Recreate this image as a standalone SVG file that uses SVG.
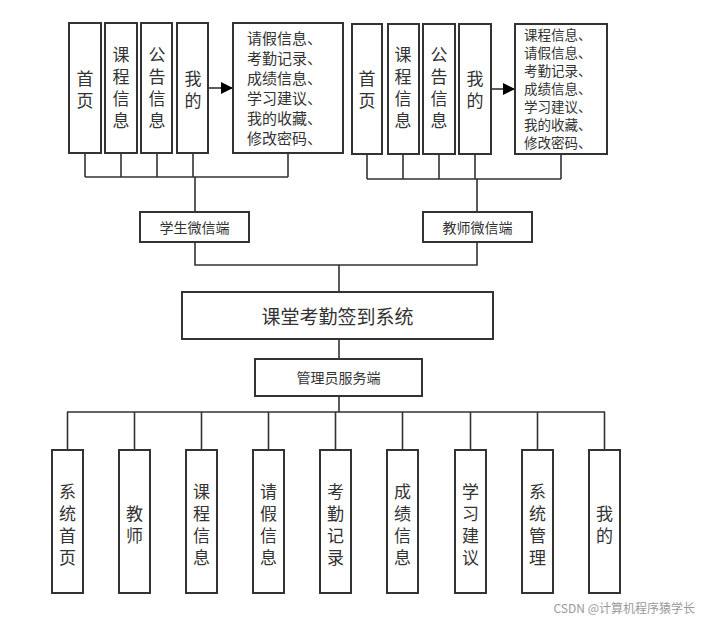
<svg xmlns="http://www.w3.org/2000/svg" width="706" height="621" viewBox="0 0 706 621">
<style>
rect{fill:#fff;stroke:#333;stroke-width:2}
text{font-family:"Noto Sans CJK SC","Liberation Sans",sans-serif;fill:#333;text-anchor:middle;dominant-baseline:central}
.v{font-size:17px}
.l{font-size:15px;text-anchor:start}
.r{font-size:13.5px;text-anchor:start}
.s{font-size:14px}
#conn path{fill:none;stroke:#333;stroke-width:1.6}
</style>
<defs><marker id="ar" viewBox="0 0 10 10" refX="10" refY="5" markerWidth="14" markerHeight="12" orient="auto" markerUnits="userSpaceOnUse"><path d="M0,0L10,5L0,10z" fill="#000"/></marker></defs>
<rect x="0" y="0" width="706" height="621" style="stroke:none"/>
<g id="conn">
<path d="M85,153V177M121,153V177M157,153V177M193,153V177M288,153V177M85,177H288M195,177V212"/>
<path d="M367,154V179M403,154V179M439,154V179M475,154V179M561,154V179M367,179H561M477,179V212"/>
<path d="M195,242V265H477V242M339,265V292M339,339V359M339,396V412M67,412H605"/>
<path d="M67.5,412V450M134.5,412V450M201.5,412V450M268.5,412V450M335.5,412V450M402.5,412V450M470.5,412V450M537.5,412V450M604.5,412V450"/>
<path d="M208,88H233" marker-end="url(#ar)"/>
<path d="M491,89H515" marker-end="url(#ar)"/>
</g>
<g id="s1"><rect x="69" y="23" width="32" height="130"/><text class="v" x="85" y="77">首</text><text class="v" x="85" y="99">页</text></g>
<g id="s2"><rect x="105" y="23" width="32" height="130"/><text class="v" x="121" y="53">课</text><text class="v" x="121" y="75">程</text><text class="v" x="121" y="97">信</text><text class="v" x="121" y="119">息</text></g>
<g id="s3"><rect x="141" y="23" width="31" height="130"/><text class="v" x="157" y="53">公</text><text class="v" x="157" y="75">告</text><text class="v" x="157" y="97">信</text><text class="v" x="157" y="119">息</text></g>
<g id="s4"><rect x="177" y="23" width="31" height="130"/><text class="v" x="193" y="77">我</text><text class="v" x="193" y="99">的</text></g>
<g id="s5"><rect x="233" y="23" width="110" height="130"/>
<text class="l" x="247" y="37">请假信息、</text><text class="l" x="247" y="57">考勤记录、</text><text class="l" x="247" y="77">成绩信息、</text><text class="l" x="247" y="97">学习建议、</text><text class="l" x="247" y="117">我的收藏、</text><text class="l" x="247" y="137">修改密码、</text></g>
<g id="t1"><rect x="352" y="24" width="30" height="130"/><text class="v" x="367" y="77">首</text><text class="v" x="367" y="99">页</text></g>
<g id="t2"><rect x="388" y="24" width="31" height="130"/><text class="v" x="403" y="53">课</text><text class="v" x="403" y="75">程</text><text class="v" x="403" y="97">信</text><text class="v" x="403" y="119">息</text></g>
<g id="t3"><rect x="423" y="24" width="32" height="130"/><text class="v" x="439" y="53">公</text><text class="v" x="439" y="75">告</text><text class="v" x="439" y="97">信</text><text class="v" x="439" y="119">息</text></g>
<g id="t4"><rect x="459" y="24" width="32" height="130"/><text class="v" x="475" y="77">我</text><text class="v" x="475" y="99">的</text></g>
<g id="t5"><rect x="515" y="24" width="92" height="130"/>
<text class="r" x="524" y="34">课程信息、</text><text class="r" x="524" y="52">请假信息、</text><text class="r" x="524" y="70">考勤记录、</text><text class="r" x="524" y="88">成绩信息、</text><text class="r" x="524" y="106">学习建议、</text><text class="r" x="524" y="124">我的收藏、</text><text class="r" x="524" y="142">修改密码、</text></g>
<g id="stu"><rect x="140" y="212" width="109" height="30"/><text class="s" x="194.5" y="227">学生微信端</text></g>
<g id="tea"><rect x="423" y="212" width="109" height="30"/><text class="s" x="477.5" y="227">教师微信端</text></g>
<g id="sys"><rect x="182" y="292" width="311" height="47"/><text x="337.5" y="315" style="font-size:19px">课堂考勤签到系统</text></g>
<g id="adm"><rect x="255" y="359" width="167" height="37"/><text class="s" x="338.5" y="377">管理员服务端</text></g>
<g id="b1"><rect x="52" y="450" width="31" height="143"/><text class="v" x="67.5" y="490">系</text><text class="v" x="67.5" y="512">统</text><text class="v" x="67.5" y="534">首</text><text class="v" x="67.5" y="556">页</text></g>
<g id="b2"><rect x="119" y="450" width="31" height="143"/><text class="v" x="134.5" y="512">教</text><text class="v" x="134.5" y="534">师</text></g>
<g id="b3"><rect x="186" y="450" width="31" height="143"/><text class="v" x="201.5" y="490">课</text><text class="v" x="201.5" y="512">程</text><text class="v" x="201.5" y="534">信</text><text class="v" x="201.5" y="556">息</text></g>
<g id="b4"><rect x="253" y="450" width="31" height="143"/><text class="v" x="268.5" y="490">请</text><text class="v" x="268.5" y="512">假</text><text class="v" x="268.5" y="534">信</text><text class="v" x="268.5" y="556">息</text></g>
<g id="b5"><rect x="320" y="450" width="31" height="143"/><text class="v" x="335.5" y="490">考</text><text class="v" x="335.5" y="512">勤</text><text class="v" x="335.5" y="534">记</text><text class="v" x="335.5" y="556">录</text></g>
<g id="b6"><rect x="387" y="450" width="31" height="143"/><text class="v" x="402.5" y="490">成</text><text class="v" x="402.5" y="512">绩</text><text class="v" x="402.5" y="534">信</text><text class="v" x="402.5" y="556">息</text></g>
<g id="b7"><rect x="455" y="450" width="31" height="143"/><text class="v" x="470.5" y="490">学</text><text class="v" x="470.5" y="512">习</text><text class="v" x="470.5" y="534">建</text><text class="v" x="470.5" y="556">议</text></g>
<g id="b8"><rect x="522" y="450" width="31" height="143"/><text class="v" x="537.5" y="490">系</text><text class="v" x="537.5" y="512">统</text><text class="v" x="537.5" y="534">管</text><text class="v" x="537.5" y="556">理</text></g>
<g id="b9"><rect x="589" y="450" width="31" height="143"/><text class="v" x="604.5" y="512">我</text><text class="v" x="604.5" y="534">的</text></g>
<text x="695" y="607" style="font-size:12px;fill:#999;text-anchor:end">CSDN @计算机程序猿学长</text>
</svg>
